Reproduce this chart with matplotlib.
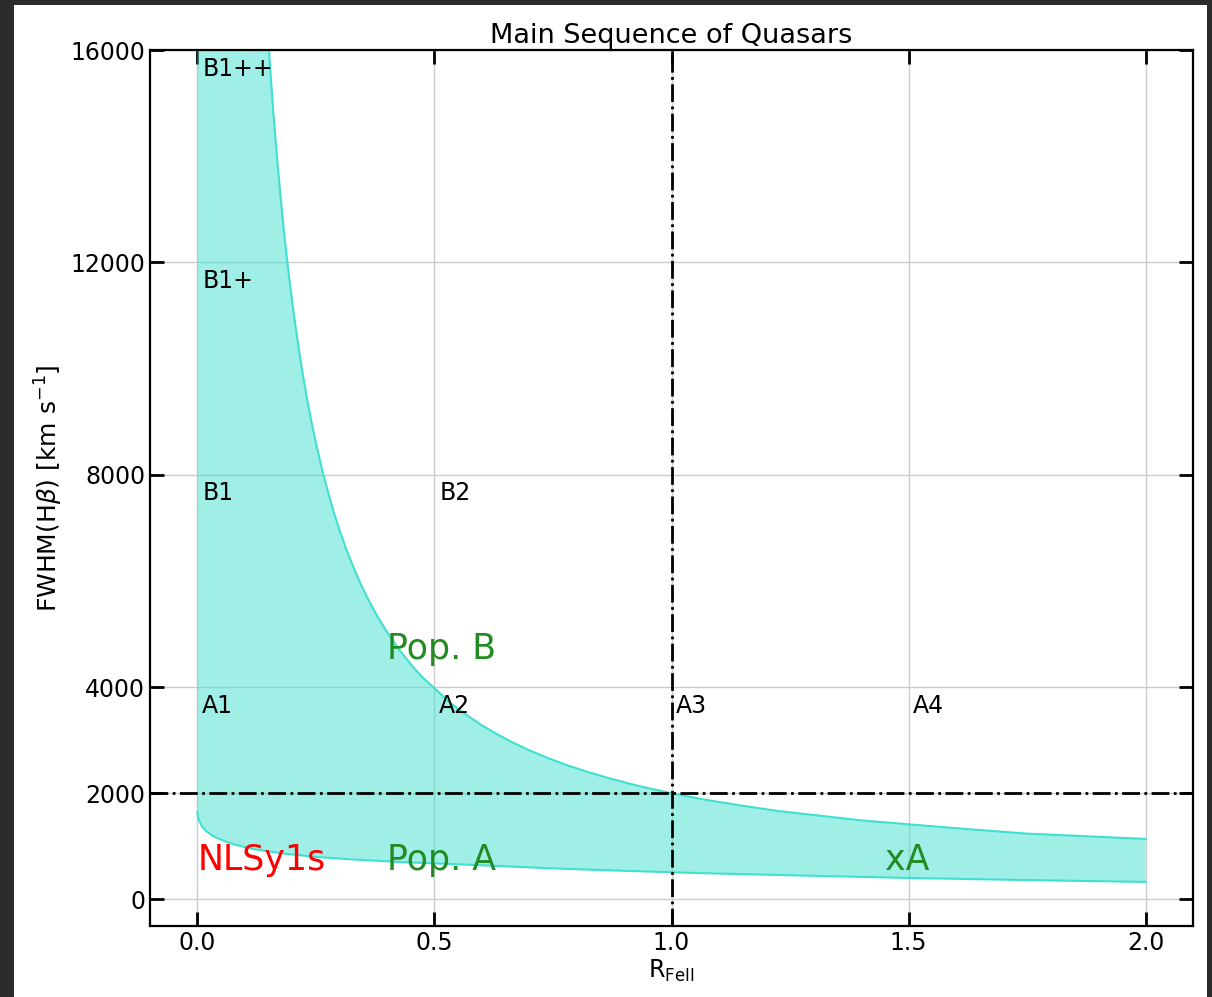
import matplotlib.pyplot as plt
from matplotlib.patches import Rectangle

# bounds of the main sequence band
r_upper = [0.151, 0.155, 0.160, 0.167, 0.175, 0.182, 0.190, 0.200, 0.210, 0.220,
           0.230, 0.240, 0.250, 0.2625, 0.275, 0.2875, 0.300, 0.315, 0.330, 0.345,
           0.360, 0.380, 0.400, 0.425, 0.450, 0.475, 0.500, 0.530, 0.560, 0.600,
           0.630, 0.665, 0.700, 0.740, 0.780, 0.820, 0.870, 0.930, 1.000, 1.075,
           1.150, 1.225, 1.300, 1.400, 1.500, 1.625, 1.750, 1.875, 2.000]
f_upper = [16000, 15460, 14850, 14070, 13270, 12630, 11980, 11245, 10600, 10015,
           9490, 9020, 8600, 8113, 7690, 7298, 6950, 6571, 6240, 5929,
           5655, 5324, 5040, 4711, 4430, 4181, 3980, 3727, 3520, 3280,
           3122, 2957, 2810, 2661, 2528, 2410, 2278, 2139, 2000, 1872,
           1765, 1666, 1590, 1490, 1415, 1325, 1240, 1190, 1140]

r_lower = [0.0, 0.001, 0.003, 0.006, 0.010, 0.017, 0.030, 0.045, 0.060, 0.080,
           0.115, 0.150, 0.185, 0.256, 0.326, 0.431, 0.500, 0.607, 0.750, 0.900,
           1.060, 1.250, 1.500, 1.750, 2.000]
f_lower = [1640, 1560, 1500, 1440, 1370, 1300, 1210, 1144, 1090, 1030,
           955, 905, 861, 797, 754, 703, 680, 641, 585, 540,
           496, 455, 405, 365, 330]

xticks = [0.0, 0.5, 1.0, 1.5, 2.0]
yticks = [0, 2000, 4000, 8000, 12000, 16000]

# class labels: (text, R, FWHM)
bins = [("B1++", 0.01, 15650), ("B1+", 0.01, 11650), ("B1", 0.01, 7650),
        ("B2", 0.51, 7650), ("A1", 0.01, 3650), ("A2", 0.51, 3650),
        ("A3", 1.01, 3650), ("A4", 1.51, 3650)]
pops = [("Pop. B", 0.40, 4720, "forestgreen"), ("Pop. A", 0.40, 740, "forestgreen"),
        ("NLSy1s", 0.0, 740, "red"), ("xA", 1.45, 740, "forestgreen")]

fig = plt.figure(figsize=(12.12, 9.97), dpi=100, facecolor="#2b2b2b")
fig.patches.append(Rectangle((14 / 1212, 0), (1207 - 14) / 1212, 1 - 5 / 997,
                             transform=fig.transFigure, facecolor="white",
                             edgecolor="none", zorder=-10))
ax = fig.add_axes([150 / 1212, 1 - 926 / 997, (1193 - 150) / 1212, (926 - 50) / 997])

# band polygon: lower edge left->right, upper edge right->left, closed at the top
poly_x = r_lower + r_upper[::-1] + [0.0]
poly_y = f_lower + f_upper[::-1] + [16000]
ax.fill(poly_x, poly_y, color="turquoise", alpha=0.5, lw=0, zorder=1)
ax.plot(r_upper, f_upper, color="turquoise", lw=1.5, zorder=2)
ax.plot(r_lower, f_lower, color="turquoise", lw=1.5, zorder=2)

ax.axhline(2000, color="black", ls="-.", lw=2, zorder=3)
ax.axvline(1.0, color="black", ls="-.", lw=2, zorder=3)

for txt, x, y in bins:
    ax.text(x, y, txt, fontsize=17, va="center", ha="left", zorder=4)
for txt, x, y, c in pops:
    ax.text(x, y, txt, fontsize=25, color=c, va="center", ha="left", zorder=4)

ax.set_xlim(-0.1, 2.1)
ax.set_ylim(-500, 16000)
ax.set_xticks(xticks)
ax.set_yticks(yticks)
ax.grid(True, color="#cccccc", lw=1, zorder=0)
ax.set_axisbelow(True)
ax.tick_params(direction="in", length=10, width=2, labelsize=17,
               top=True, right=True)
for s in ax.spines.values():
    s.set_linewidth(1.6)

ax.set_title("Main Sequence of Quasars", fontsize=19.5, pad=5)
ax.set_xlabel(r"R$_{\rm FeII}$", fontsize=17, labelpad=2)
ax.set_ylabel(r"FWHM(H$\beta$) [km s$^{-1}$]", fontsize=18, labelpad=4)

fig.savefig("out.png", dpi=100, facecolor=fig.get_facecolor())
